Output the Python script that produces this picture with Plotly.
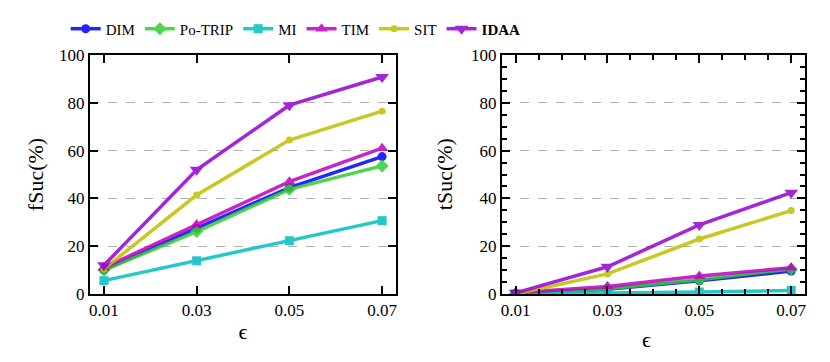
import plotly.graph_objects as go
from plotly.subplots import make_subplots

# epsilon values shared by both panels
eps = [0.01, 0.03, 0.05, 0.07]

# fSuc (%) - left panel
f_dim = [10.0, 27.5, 44.5, 57.5]
f_potrip = [10.0, 26.1, 43.8, 53.6]
f_mi = [5.6, 13.9, 22.3, 30.7]
f_tim = [11.0, 29.1, 47.0, 61.0]
f_sit = [10.5, 41.4, 64.4, 76.5]
f_idaa = [12.0, 52.0, 79.0, 90.8]

# tSuc (%) - right panel
t_dim = [0.2, 2.0, 5.5, 9.6]
t_potrip = [0.2, 2.2, 6.0, 10.5]
t_mi = [0.0, 0.3, 0.8, 1.5]
t_tim = [0.5, 3.1, 7.5, 11.0]
t_sit = [0.0, 8.4, 23.0, 34.9]
t_idaa = [0.5, 11.4, 28.9, 42.4]

methods = ["DIM", "Po-TRIP", "MI", "TIM", "SIT", "<b>IDAA</b>"]
colors = ["#0000ff", "#32cd32", "#00bfbf", "#bf00bf", "#bfbf00", "#9400d3"]
symbols = ["circle", "diamond", "square", "triangle-up", "circle", "triangle-down"]
msizes = [9, 10, 9, 11, 7, 12]

left = [f_dim, f_potrip, f_mi, f_tim, f_sit, f_idaa]
right = [t_dim, t_potrip, t_mi, t_tim, t_sit, t_idaa]

FONT = "Liberation Serif, serif"

fig = make_subplots(rows=1, cols=2)

for i, name in enumerate(methods):
    for col, data in ((1, left[i]), (2, right[i])):
        fig.add_trace(go.Scatter(
            x=eps, y=data, name=name, mode="lines+markers",
            line=dict(color=colors[i], width=3.5),
            marker=dict(symbol=symbols[i], size=msizes[i], color=colors[i]),
            opacity=0.85,
            showlegend=(col == 1), legendgroup=name,
        ), row=1, col=col)

xdoms = {1: [0.0, 0.428], 2: [0.576, 1.0]}

# left panel: axis titles, major ticks only
fig.update_xaxes(
    showline=True, linecolor="black", linewidth=2, mirror="allticks",
    ticks="inside", ticklen=8, tickwidth=2, tickcolor="black",
    tickfont=dict(family=FONT, size=17, color="black"),
    zeroline=False, domain=xdoms[1], range=[0.007, 0.073], tickvals=eps,
    ticktext=["0.01", "0.03", "0.05", "0.07"],
    title=dict(text="ϵ", font=dict(family=FONT, size=22, color="black"), standoff=4),
    row=1, col=1)
fig.update_yaxes(
    showline=True, linecolor="black", linewidth=2, mirror="allticks",
    ticks="inside", ticklen=8, tickwidth=2, tickcolor="black",
    tickfont=dict(family=FONT, size=17, color="black"),
    zeroline=False, range=[0, 100], dtick=20,
    gridcolor="#b0b0b0", griddash="dash",
    title=dict(text="fSuc(%)", font=dict(family=FONT, size=22, color="black"), standoff=9),
    row=1, col=1)

# right panel: minor ticks, titles as annotations
fig.update_xaxes(
    showline=True, linecolor="black", linewidth=2, mirror="allticks",
    ticks="inside", ticklen=8, tickwidth=2, tickcolor="black",
    tickfont=dict(family=FONT, size=17, color="black"),
    zeroline=False, domain=xdoms[2], range=[0.007, 0.073], tickvals=eps,
    ticktext=["0.01", "0.03", "0.05", "0.07"],
    minor=dict(ticks="inside", ticklen=5, tickwidth=1.5, tickcolor="black",
               dtick=0.005, tick0=0.0),
    row=1, col=2)
fig.update_yaxes(
    showline=True, linecolor="black", linewidth=2, mirror="allticks",
    ticks="inside", ticklen=8, tickwidth=2, tickcolor="black",
    tickfont=dict(family=FONT, size=17, color="black"),
    zeroline=False, range=[0, 100], dtick=20,
    gridcolor="#b0b0b0", griddash="dash",
    minor=dict(ticks="inside", ticklen=5, tickwidth=1.5, tickcolor="black", dtick=5),
    row=1, col=2)
fig.add_annotation(text="tSuc(%)", xref="paper", yref="paper", x=-0.08 + xdoms[2][0],
                   y=0.5, textangle=-90, showarrow=False,
                   font=dict(family=FONT, size=22, color="black"))
fig.add_annotation(text="ϵ", xref="paper", yref="paper", x=sum(xdoms[2]) / 2,
                   y=-0.13, yanchor="top", showarrow=False,
                   font=dict(family=FONT, size=22, color="black"))

fig.update_layout(
    width=830, height=362,
    margin=dict(l=90, r=25, t=55, b=68, autoexpand=False),
    plot_bgcolor="white", paper_bgcolor="white",
    legend=dict(orientation="h", x=-0.034, y=1.109, xanchor="left", yanchor="middle",
                font=dict(family=FONT, size=15, color="black"),
                itemwidth=30, tracegroupgap=0, bgcolor="rgba(0,0,0,0)"),
)

fig.write_html("out.html", config={"displayModeBar": False},
               post_script="document.body.style.margin='0';")
